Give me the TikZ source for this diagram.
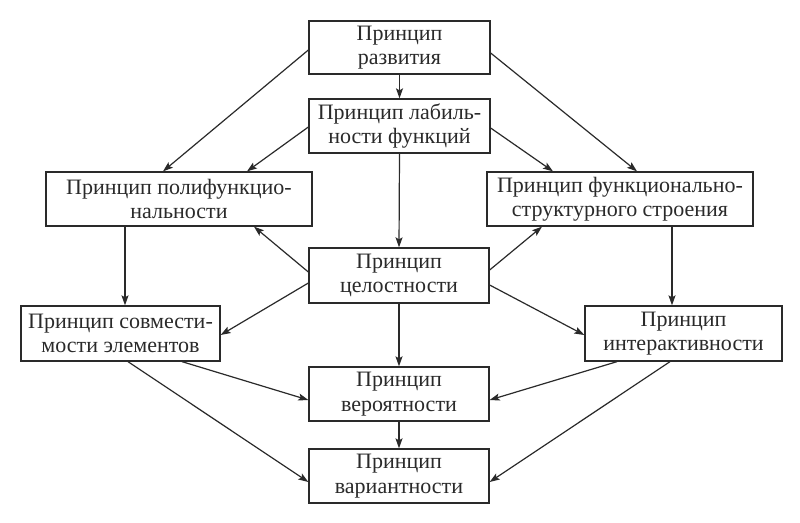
\documentclass[tikz,border=0pt]{standalone}
\usepackage{fontspec}
\setmainfont{Liberation Serif}
\usetikzlibrary{arrows.meta,calc}
\definecolor{ink}{HTML}{2A2A2A}
\begin{document}
\begin{tikzpicture}[x=1pt,y=-1pt,
  box/.style={draw=ink,line width=1.3pt,rectangle,inner sep=0pt,align=center,
    text=ink,font=\fontsize{22}{24.5}\selectfont},
  conn/.style={draw=ink,line width=1.2pt,-{Stealth[length=10pt,width=7pt,inset=2pt]}}]
\useasboundingbox (0,0) rectangle (800,522);
\fill[white] (0,0) rectangle (800,522);
\node[box,minimum width=181pt,minimum height=53pt] (A) at (399.5,47.5) {Принцип\\развития};
\node[box,minimum width=181pt,minimum height=54pt] (B) at (399.5,126) {Принцип лабиль-\\ности функций};
\node[box,minimum width=266pt,minimum height=54pt] (P) at (179,199) {Принцип полифункцио-\\нальности};
\node[box,minimum width=266pt,minimum height=54pt] (F) at (620,199) {Принцип функционально-\\структурного строения};
\node[box,minimum width=180pt,minimum height=55pt] (C) at (399,275.5) {Принцип\\целостности};
\node[box,minimum width=199pt,minimum height=55pt] (S) at (120.5,333.5) {Принцип совмести-\\мости элементов};
\node[box,minimum width=197pt,minimum height=55pt] (I) at (683.5,333.5) {Принцип\\интерактивности};
\node[box,minimum width=180pt,minimum height=54pt] (V) at (399,394) {Принцип\\вероятности};
\node[box,minimum width=180pt,minimum height=54pt] (W) at (399,476) {Принцип\\вариантности};
\draw[conn] (A.south) -- (B.north);
\draw[conn] ([yshift=-2.5pt]A.west) -- ([xshift=-16pt]P.north);
\draw[conn] ([yshift=-1pt]B.west) -- ([xshift=68pt]P.north);
\draw[conn] ([yshift=-5.5pt]A.east) -- ([xshift=17pt]F.north);
\draw[conn] ([yshift=-2pt]B.east) -- ([xshift=-67pt]F.north);
\draw[conn] (B.south) -- (C.north);
\draw[conn] ([yshift=3.5pt]C.west) -- ([xshift=75pt]P.south);
\draw[conn] ([yshift=-7.5pt]C.west) -- ([yshift=-1.5pt]S.east);
\draw[conn] ([yshift=5.5pt]C.east) -- ([xshift=-78pt]F.south);
\draw[conn] ([yshift=-9.5pt]C.east) -- ([yshift=-1.5pt]I.west);
\draw[conn] ([xshift=-54pt]P.south) coordinate (p1) -- (p1 |- S.north);
\draw[conn] ([xshift=52pt]F.south) coordinate (f1) -- (f1 |- I.north);
\draw[conn] (C.south) -- (V.north);
\draw[conn] ([xshift=61.5pt]S.south) -- ([yshift=-6pt]V.west);
\draw[conn] ([xshift=7.5pt]S.south) -- ([yshift=-6pt]W.west);
\draw[conn] ([xshift=-66.5pt]I.south) -- ([yshift=-6pt]V.east);
\draw[conn] ([xshift=-13.5pt]I.south) -- ([yshift=-6pt]W.east);
\draw[conn] (V.south) -- (W.north);
\end{tikzpicture}
\end{document}
